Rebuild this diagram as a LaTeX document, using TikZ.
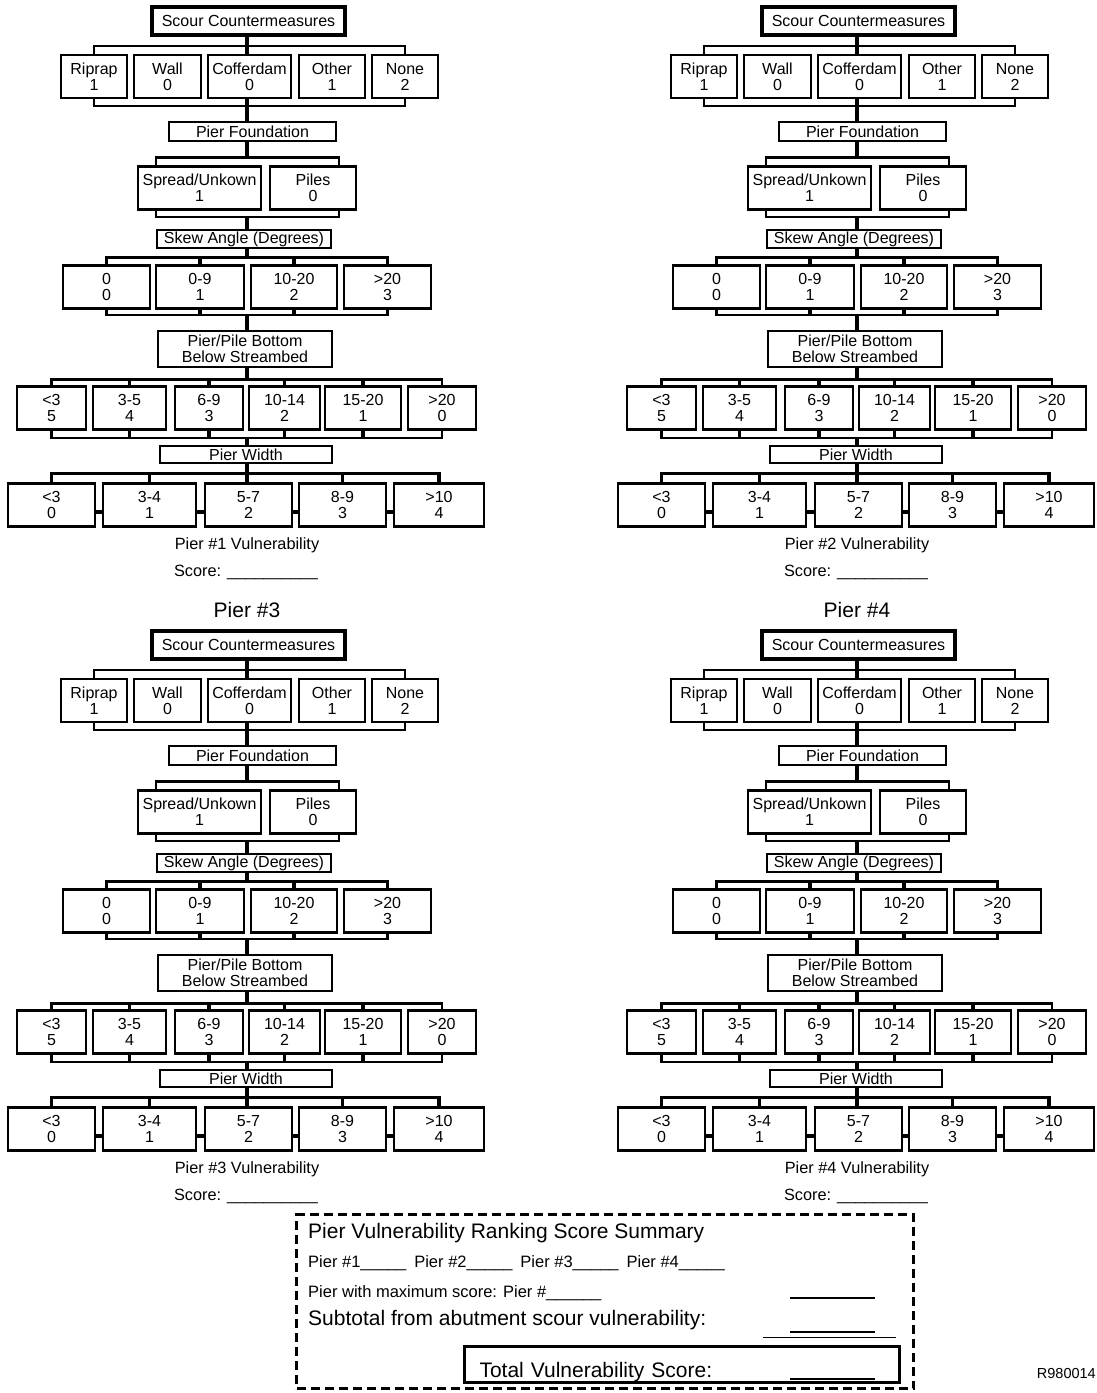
\documentclass[tikz,border=0pt]{standalone}
\usepackage{fontspec}
\setmainfont{Liberation Sans}
\usetikzlibrary{calc}
\newcommand{\scoreline}{\_\_\_\_\_\_\_\_\_\_}
\newcommand{\pierblank}{\_\_\_\_\_}

\begin{document}
\begin{tikzpicture}[x=1pt,y=-1pt,
  every node/.style={font=\fontsize{16}{16}\selectfont,inner sep=0pt},
  headbox/.style={draw,line width=4pt,minimum width=193pt,minimum height=28pt},
  cat/.style={draw,line width=2.4pt,align=center},
  opt/.style={draw,line width=2.4pt,align=center,minimum height=43pt},
  note/.style={font=\fontsize{16.3}{18}\selectfont},
  big/.style={font=\fontsize{21}{24}\selectfont},
  link/.style={line width=3.2pt},
  brk/.style={line width=2.4pt}]
  \useasboundingbox (0,0) rectangle (1097,1393);

  % one decision tree per pier
  \foreach \p/\dx/\dy in {1/0/0,2/610/0,3/0/624,4/610/624}{
  \begin{scope}[shift={(\dx,\dy)}]
    \coordinate (p\p-st) at (247,0);
    \node[headbox] (p\p-sc) at (248.5,21) {Scour Countermeasures};
    \node[opt,minimum width=66pt] (p\p-rip) at (94,76.5) {Riprap\\1};
    \node[opt,minimum width=67pt] (p\p-wal) at (167.5,76.5) {Wall\\0};
    \node[opt,minimum width=83pt] (p\p-cof) at (249.5,76.5) {Cofferdam\\0};
    \node[opt,minimum width=66pt] (p\p-oth) at (332,76.5) {Other\\1};
    \node[opt,minimum width=66pt] (p\p-non) at (405,76.5) {None\\2};
    \node[cat,minimum width=167pt,minimum height=19pt] (p\p-fnd) at (252.5,131.5) {Pier Foundation};
    \node[opt,minimum width=123pt] (p\p-spr) at (199.5,188) {Spread/Unkown\\1};
    \node[opt,minimum width=86pt] (p\p-pil) at (313,188) {Piles\\0};
    \node[cat,minimum width=174pt,minimum height=18pt] (p\p-skw) at (244,239) {Skew Angle (Degrees)};
    \node[opt,minimum width=87pt] (p\p-b0) at (106.5,287) {0\\0};
    \node[opt,minimum width=88pt] (p\p-b1) at (200,287) {0-9\\1};
    \node[opt,minimum width=86pt] (p\p-b2) at (294,287) {10-20\\2};
    \node[opt,minimum width=87pt] (p\p-b3) at (387.5,287) {>20\\3};
    \node[cat,minimum width=174pt,minimum height=36pt] (p\p-dep) at (245,349) {Pier/Pile Bottom\\Below Streambed};
    \node[opt,minimum width=69pt] (p\p-d0) at (51.5,408) {<3\\5};
    \node[opt,minimum width=73pt] (p\p-d1) at (129.5,408) {3-5\\4};
    \node[opt,minimum width=68pt] (p\p-d2) at (209,408) {6-9\\3};
    \node[opt,minimum width=71pt] (p\p-d3) at (284.5,408) {10-14\\2};
    \node[opt,minimum width=76pt] (p\p-d4) at (363,408) {15-20\\1};
    \node[opt,minimum width=68pt] (p\p-d5) at (442,408) {>20\\0};
    \node[cat,minimum width=172pt,minimum height=17pt] (p\p-wid) at (246,454.5) {Pier Width};
    \node[opt,minimum width=87pt] (p\p-w0) at (51.5,505) {<3\\0};
    \node[opt,minimum width=93pt] (p\p-w1) at (149.5,505) {3-4\\1};
    \node[opt,minimum width=87pt] (p\p-w2) at (248.5,505) {5-7\\2};
    \node[opt,minimum width=87pt] (p\p-w3) at (342.5,505) {8-9\\3};
    \node[opt,minimum width=90pt] (p\p-w4) at (439,505) {>10\\4};
    \node[note] (p\p-vul) at (247,545) {Pier \#\p{} Vulnerability};
    \node[note] (p\p-scr) at (246,572) {Score: \scoreline};

    % stem and brackets
    \draw[link] (p\p-sc.south -| p\p-st) -- (p\p-cof.north -| p\p-st);
    \draw[brk] (p\p-rip.north) -- ++(0,-8) -| (p\p-non.north);
    \draw[brk] (p\p-rip.south) -- ++(0,7) -| (p\p-non.south);
    \draw[link] (p\p-cof.south -| p\p-st) -- (p\p-fnd.north -| p\p-st);
    \draw[link] (p\p-fnd.south -| p\p-st) -- ($(p\p-spr.north -| p\p-st)+(0,-8)$);
    \draw[brk] ($(p\p-spr.north west)+(19,0)$) -- ++(0,-8) -| ($(p\p-pil.north east)+(-18,0)$);
    \draw[brk] ($(p\p-spr.south west)+(19,0)$) -- ++(0,6) -| ($(p\p-pil.south east)+(-18,0)$);
    \draw[link] ($(p\p-spr.south -| p\p-st)+(0,6)$) -- (p\p-skw.north -| p\p-st);
    \draw[link] (p\p-skw.south -| p\p-st) -- ($(p\p-b0.north -| p\p-st)+(0,-7)$);
    \draw[brk] (p\p-b0.north) -- ++(0,-7) -| (p\p-b3.north);
    \draw[brk] (p\p-b0.south) -- ++(0,5) -| (p\p-b3.south);
    \draw[link] (p\p-b1.north) -- ++(0,-7) (p\p-b2.north) -- ++(0,-7)
                (p\p-b1.south) -- ++(0,5) (p\p-b2.south) -- ++(0,5);
    \draw[link] ($(p\p-b0.south -| p\p-st)+(0,5)$) -- (p\p-dep.north -| p\p-st);
    \draw[link] (p\p-dep.south -| p\p-st) -- ($(p\p-d0.north -| p\p-st)+(0,-6)$);
    \draw[brk] (p\p-d0.north) -- ++(0,-6) -| (p\p-d5.north);
    \draw[brk] (p\p-d0.south) -- ++(0,7) -| (p\p-d5.south);
    \foreach \k in {1,...,4}
      \draw[link] (p\p-d\k.north) -- ++(0,-6) (p\p-d\k.south) -- ++(0,7);
    \draw[link] ($(p\p-d0.south -| p\p-st)+(0,7)$) -- (p\p-wid.north -| p\p-st);
    \draw[link] (p\p-wid.south -| p\p-st) -- (p\p-w2.north -| p\p-st);
    \draw[link] (p\p-w0.north) -- ++(0,-9) -| (p\p-w4.north);
    \draw[link] (p\p-w1.north) -- ++(0,-9) (p\p-w3.north) -- ++(0,-9);
    \foreach \a/\b in {0/1,1/2,2/3,3/4}
      \draw[link] ($(p\p-w\a.east)+(0,7)$) -- ($(p\p-w\b.west)+(0,7)$);
  \end{scope}}

  \node[big] (t3) at (247,610) {Pier \#3};
  \node[big] (t4) at (857,610) {Pier \#4};

  % summary
  \node[draw,line width=3pt,dash pattern=on 9pt off 5pt,minimum width=617pt,minimum height=174pt] (sumbox) at (605,1301.5) {};
  \node[big,anchor=west] (sumt) at (308,1233) {Pier Vulnerability Ranking Score Summary};
  \node[anchor=west,font=\fontsize{16.5}{18}\selectfont] (sum1) at (308,1263) {Pier \#1\pierblank\hspace{8pt}Pier \#2\pierblank\hspace{8pt}Pier \#3\pierblank\hspace{8pt}Pier \#4\pierblank};
  \node[anchor=west,font=\fontsize{16.5}{18}\selectfont] (summax) at (308,1293) {Pier with maximum score: Pier \#\_\_\_\_\_\_};
  \node[big,anchor=west] (subt) at (308,1320) {Subtotal from abutment scour vulnerability:};
  \node[draw,line width=3pt,anchor=west,text width=405pt,inner xsep=15pt,text height=27pt,text depth=2pt,minimum height=36pt,big] (tot) at (463,1364.5) {Total Vulnerability Score:};
  \draw[line width=2pt] (790,1298) -- (875,1298);
  \draw[line width=2pt] (790,1332) -- (875,1332);
  \draw[line width=1pt] (763,1337) -- (896,1337);
  \draw[line width=2pt] (790,1379) -- (875,1379);
  \node[anchor=east,font=\fontsize{14.5}{16}\selectfont] (fig) at (1096,1373) {R980014};
\end{tikzpicture}
\end{document}
